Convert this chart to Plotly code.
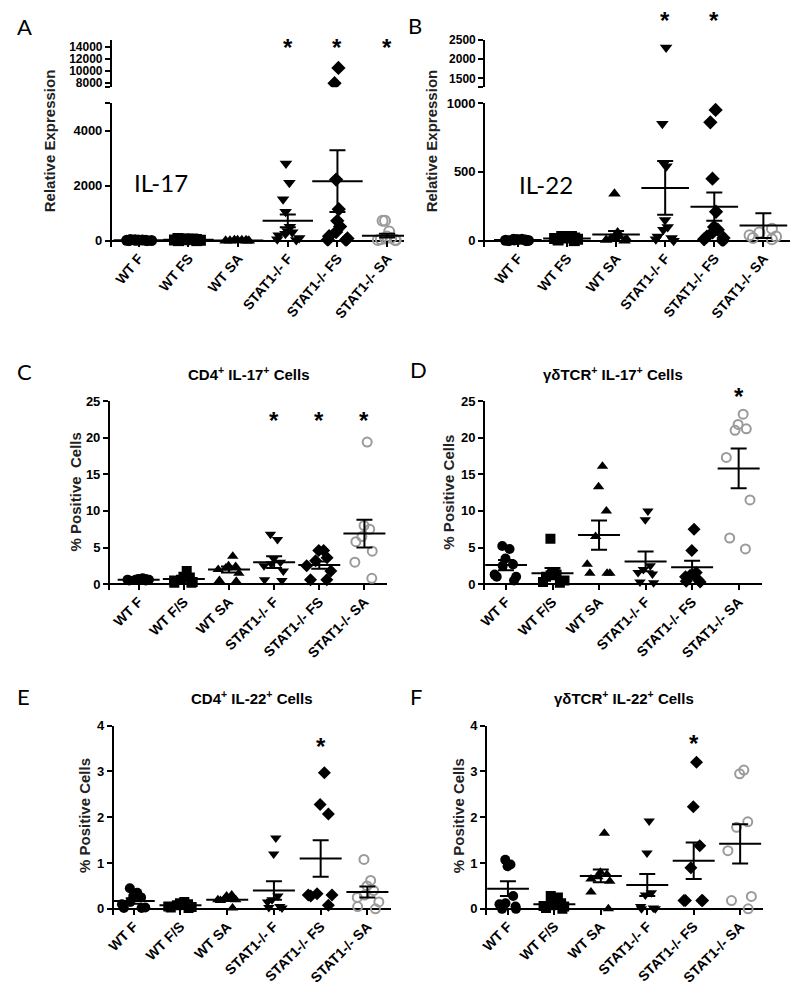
import plotly.graph_objects as go

W, H = 800, 996

# ---------------- data ----------------
cats_AB = ["WT F", "WT FS", "WT SA", "STAT1-/- F", "STAT1-/- FS", "STAT1-/- SA"]
cats_CF = ["WT F", "WT F/S", "WT SA", "STAT1-/- F", "STAT1-/- FS", "STAT1-/- SA"]

# A: IL-17 relative expression
il17_rel = [
    [0, 0, 5, 10, 10, 15, 20, 20, 30, 40],
    [0, 0, 10, 20, 30, 40, 50, 60, 60, 80],
    [0, 0, 0, 5, 5, 10, 10, 10, 0],
    [2800, 2100, 1500, 1050, 500, 350, 300, 250, 200, 100, 50, 20],
    [10500, 8000, 2220, 1140, 720, 510, 310, 160, 80, 30, 20],
    [720, 720, 330, 150, 100, 80, 50, 30, 20, 10],
]
il17_rel_mean = [12, 30, 5, 720, 2160, 180]
il17_rel_sem = [4, 8, 2, 230, 1120, 70]

# B: IL-22 relative expression
il22_rel = [
    [0, 0, 2, 3, 5, 5, 8, 10, 10],
    [0, 5, 10, 15, 20, 25, 30, 30, 20],
    [340, 60, 40, 30, 20, 15, 10, 5, 0],
    [2300, 850, 560, 540, 150, 100, 80, 30, 20, 10, 0],
    [950, 860, 450, 210, 100, 80, 60, 30, 20, 10, 0],
    [86, 60, 40, 30, 20, 10],
]
il22_rel_mean = [4, 15, 45, 383, 247, 110]
il22_rel_sem = [1, 3, 25, 195, 103, 90]

# C: CD4+ IL-17+ cells (%)
cd4_il17 = [
    [0.5, 0.6, 0.7, 0.5, 0.6, 0.8, 0.7, 0.6],
    [1.8, 1.0, 0.9, 0.6, 0.5, 0.3, 0.2, 0.2],
    [3.8, 2.5, 2.4, 2.2, 2.0, 1.5, 0.5, 0.4],
    [6.8, 6.1, 3.5, 3.0, 2.8, 2.5, 0.5, 0.6, 1.8],
    [4.6, 4.6, 3.6, 3.2, 2.5, 1.8, 0.6, 0.6],
    [19.4, 8.0, 7.5, 6.5, 5.8, 4.5, 3.0, 0.8],
]
cd4_il17_mean = [0.6, 0.7, 2.0, 3.0, 2.6, 6.9]
cd4_il17_sem = [0.05, 0.2, 0.4, 0.8, 0.5, 1.9]

# D: gdTCR+ IL-17+ cells (%)
gd_il17 = [
    [5.2, 4.8, 3.5, 2.7, 2.5, 1.0, 1.0, 0.5, 1.3],
    [6.2, 1.5, 1.4, 1.3, 1.2, 1.0, 0.5, 0.3, 0.2],
    [16.1, 13.3, 10.0, 6.5, 2.7, 1.5, 1.5, 1.5],
    [10.0, 8.8, 2.5, 2.0, 1.6, 1.4, 0.3, 0.2],
    [7.5, 4.6, 1.6, 1.2, 1.0, 0.6, 0.4, 0.3],
    [23.2, 21.8, 21.0, 21.2, 17.3, 11.5, 6.3, 4.8],
]
gd_il17_mean = [2.6, 1.5, 6.7, 3.1, 2.3, 15.8]
gd_il17_sem = [0.7, 0.7, 2.0, 1.35, 0.9, 2.7]

# E: CD4+ IL-22+ cells (%)
cd4_il22 = [
    [0.45, 0.35, 0.28, 0.25, 0.15, 0.1, 0.02, 0.02, 0.03],
    [0.15, 0.12, 0.1, 0.08, 0.05, 0.04, 0.03, 0.02],
    [0.3, 0.28, 0.25, 0.22, 0.2, 0.18, 0.2, 0.02],
    [1.55, 1.2, 0.28, 0.2, 0.15, 0.05, 0.03, 0.02],
    [2.97, 2.28, 2.07, 0.33, 0.3, 0.3, 0.28, 0.08],
    [1.08, 0.62, 0.5, 0.4, 0.3, 0.25, 0.15, 0.05, 0.0],
]
cd4_il22_mean = [0.17, 0.08, 0.2, 0.4, 1.1, 0.37]
cd4_il22_sem = [0.06, 0.02, 0.03, 0.2, 0.4, 0.12]

# F: gdTCR+ IL-22+ cells (%)
gd_il22 = [
    [1.07, 0.97, 0.93, 0.28, 0.12, 0.1, 0.05, 0.0, 0.0],
    [0.28, 0.25, 0.2, 0.12, 0.08, 0.06, 0.05, 0.02, 0.0],
    [1.65, 0.8, 0.75, 0.7, 0.65, 0.6, 0.37, 0.0],
    [1.92, 1.22, 0.35, 0.3, 0.05, 0.02, 0.0, 0.0],
    [3.2, 2.23, 1.38, 0.9, 0.18, 0.18, 0.18, 0.18],
    [3.03, 2.95, 1.9, 1.78, 1.27, 0.27, 0.18, 0.0],
]
gd_il22_mean = [0.44, 0.1, 0.72, 0.52, 1.05, 1.42]
gd_il22_sem = [0.16, 0.03, 0.14, 0.24, 0.4, 0.43]

# ---------------- styling ----------------
FONT = "Liberation Sans, Arial, sans-serif"
LETTER_FONT = "Lato, Liberation Sans, sans-serif"
GRAY = "#9a9a9a"
SYMBOLS = ["circle", "square", "triangle-up", "triangle-down", "diamond", "circle-open"]


def fx(px):
    return px / W


def fy(py):
    return 1 - py / H


fig = go.Figure()
layout = dict()
annotations = []


def add_points(vals_list, cats, xa, ya, msize):
    for i, vals in enumerate(vals_list):
        open_marker = SYMBOLS[i] == "circle-open"
        fig.add_trace(go.Box(
            x=[cats[i]] * len(vals), y=vals,
            boxpoints="all", jitter=1.0, pointpos=0,
            line=dict(width=0), fillcolor="rgba(0,0,0,0)",
            marker=dict(symbol=SYMBOLS[i], size=msize - (1 if open_marker else 0),
                        color=GRAY if open_marker else "black",
                        line=dict(width=2 if open_marker else 0,
                                  color=GRAY if open_marker else "black")),
            xaxis=xa, yaxis=ya, showlegend=False, hoverinfo="y",
        ))


def add_mean(means, sems, cats, xa, ya, lw):
    fig.add_trace(go.Scatter(
        x=cats, y=means, mode="markers",
        marker=dict(symbol="line-ew", size=lw, color="black",
                    line=dict(width=2, color="black")),
        error_y=dict(type="data", array=sems, visible=True,
                     thickness=2, width=8, color="black"),
        xaxis=xa, yaxis=ya, showlegend=False, hoverinfo="y",
    ))


def xaxis_dict(cats, xdom, xrange, anchor, visible=True, tsize=14, tangle=-45):
    d = dict(domain=[fx(xdom[0]), fx(xdom[1])], anchor=anchor,
             type="category", categoryorder="array", categoryarray=cats,
             range=list(xrange), showgrid=False, zeroline=False,
             showline=False, fixedrange=True)
    if visible:
        d.update(ticks="inside", ticklen=6, tickwidth=2, tickcolor="black",
                 tickangle=tangle,
                 tickfont=dict(family=FONT, size=tsize, color="black", weight="bold"))
    else:
        d.update(visible=False)
    return d


def yaxis_dict(ydom, yrange, anchor, tickvals, tsize=13, endticks=None):
    d = dict(domain=[fy(ydom[1]), fy(ydom[0])], anchor=anchor,
             range=list(yrange), showgrid=False,
             zeroline=True, zerolinecolor="black", zerolinewidth=2,
             showline=True, linecolor="black", linewidth=2,
             ticks="outside", ticklen=5, tickwidth=2, tickcolor="black",
             tickmode="array", tickvals=tickvals, ticktext=[str(v) for v in tickvals],
             tickfont=dict(family=FONT, size=tsize, color="black", weight="bold"),
             fixedrange=True)
    if endticks:
        # unlabelled ticks marking the ends of a broken axis segment
        d["minor"] = dict(tickmode="array", tickvals=endticks, ticks="outside",
                          ticklen=5, tickwidth=2, tickcolor="black", showgrid=False)
    return d


def text_at(text, px, py, size, family=FONT, weight="bold", color="black", angle=0):
    annotations.append(dict(text=text, x=fx(px), y=fy(py), xref="paper", yref="paper",
                            textangle=angle, showarrow=False,
                            xanchor="center", yanchor="middle",
                            font=dict(family=family, size=size, color=color, weight=weight)))


def ytitle(text, px, py, size=15):
    text_at(text, px, py, size, color="#222", angle=-90)


def letter(text, px, py):
    text_at(text, px, py, 22, family=LETTER_FONT, weight="normal")


def title(text, px, py):
    text_at(text, px, py, 15)


def stars(xref, cats, idxs, py):
    for i in idxs:
        annotations.append(dict(text="*", x=cats[i], y=fy(py), xref=xref, yref="paper",
                                showarrow=False, xanchor="center", yanchor="middle",
                                font=dict(family=FONT, size=24, color="black", weight="bold")))


# ---------- Panel A (broken axis) ----------
add_points(il17_rel, cats_AB, "x", "y", 11)
add_mean(il17_rel_mean, il17_rel_sem, cats_AB, "x", "y", 36)
add_points(il17_rel, cats_AB, "x2", "y2", 11)
layout["xaxis"] = xaxis_dict(cats_AB, (105, 400), (-0.54, 5.34), "y", tsize=14, tangle=-50)
layout["yaxis"] = yaxis_dict((97, 242), (-216, 5000), "x", [0, 2000, 4000], endticks=[5000])
layout["xaxis2"] = xaxis_dict(cats_AB, (105, 400), (-0.54, 5.34), "y2", visible=False)
layout["yaxis2"] = yaxis_dict((33, 81), (7350, 15135), "x2", [8000, 10000, 12000, 14000],
                              tsize=12, endticks=[7400])
layout["yaxis2"]["zeroline"] = False

# ---------- Panel B (broken axis) ----------
add_points(il22_rel, cats_AB, "x3", "y3", 11)
add_mean(il22_rel_mean, il22_rel_sem, cats_AB, "x3", "y3", 34)
add_points(il22_rel, cats_AB, "x4", "y4", 11)
layout["xaxis3"] = xaxis_dict(cats_AB, (482, 790), (-0.665, 5.544), "y3", tsize=14, tangle=-50)
layout["yaxis3"] = yaxis_dict((97, 242), (-43, 1000), "x3", [0, 500, 1000])
layout["xaxis4"] = xaxis_dict(cats_AB, (482, 790), (-0.665, 5.544), "y4", visible=False)
layout["yaxis4"] = yaxis_dict((33, 81), (1271, 2500), "x4", [1500, 2000, 2500],
                              tsize=12, endticks=[1280])
layout["yaxis4"]["zeroline"] = False

# ---------- Panel C ----------
add_points(cd4_il17, cats_CF, "x5", "y5", 10)
add_mean(cd4_il17_mean, cd4_il17_sem, cats_CF, "x5", "y5", 30)
layout["xaxis5"] = xaxis_dict(cats_CF, (103, 383), (-0.636, 5.504), "y5")
layout["yaxis5"] = yaxis_dict((398, 589), (-0.81, 25), "x5", [0, 5, 10, 15, 20, 25])

# ---------- Panel D ----------
add_points(gd_il17, cats_CF, "x6", "y6", 10)
add_mean(gd_il17_mean, gd_il17_sem, cats_CF, "x6", "y6", 30)
layout["xaxis6"] = xaxis_dict(cats_CF, (482, 762), (-0.447, 5.51), "y6")
layout["yaxis6"] = yaxis_dict((398, 589), (-0.81, 25), "x6", [0, 5, 10, 15, 20, 25])

# ---------- Panel E ----------
add_points(cd4_il22, cats_CF, "x7", "y7", 10)
add_mean(cd4_il22_mean, cd4_il22_sem, cats_CF, "x7", "y7", 30)
layout["xaxis7"] = xaxis_dict(cats_CF, (107, 387), (-0.424, 5.508), "y7")
layout["yaxis7"] = yaxis_dict((726, 917), (-0.13, 4), "x7", [0, 1, 2, 3, 4])

# ---------- Panel F ----------
add_points(gd_il22, cats_CF, "x8", "y8", 10)
add_mean(gd_il22_mean, gd_il22_sem, cats_CF, "x8", "y8", 30)
layout["xaxis8"] = xaxis_dict(cats_CF, (484, 763), (-0.447, 5.5), "y8")
layout["yaxis8"] = yaxis_dict((726, 917), (-0.13, 4), "x8", [0, 1, 2, 3, 4])

# ---------- annotations ----------
letter("A", 17, 20)
letter("B", 411, 19)
letter("C", 17, 368)
letter("D", 415, 366)
letter("E", 16, 696)
letter("F", 412, 696)

text_at("IL-17", 155, 177, 24, family=LETTER_FONT, weight="normal")
text_at("IL-22", 543, 179, 24, family=LETTER_FONT, weight="normal")

title("CD4<sup>+</sup> IL-17<sup>+</sup> Cells", 243, 370)
title("γδTCR<sup>+</sup> IL-17<sup>+</sup> Cells", 611, 370)
title("CD4<sup>+</sup> IL-22<sup>+</sup> Cells", 246, 697)
title("γδTCR<sup>+</sup> IL-22<sup>+</sup> Cells", 622, 697)

ytitle("Relative Expression", 42, 135)
ytitle("Relative Expression", 428, 135)
ytitle("% Positive  Cells", 68, 490)
ytitle("% Positive Cells", 445, 490)
ytitle("% Positive Cells", 78, 817)
ytitle("% Positive Cells", 455, 817)

stars("x", cats_AB, [3, 4, 5], 41)
stars("x3", cats_AB, [3, 4], 14)
stars("x5", cats_CF, [3, 4, 5], 418)
stars("x6", cats_CF, [5], 393)
stars("x7", cats_CF, [4], 747)
stars("x8", cats_CF, [4], 744)

fig.update_layout(
    width=W, height=H, margin=dict(l=0, r=0, t=0, b=0),
    paper_bgcolor="white", plot_bgcolor="white",
    boxgap=0.05, boxmode="overlay", showlegend=False,
    annotations=annotations, **layout,
)

fig.write_html("out.html", config={"displayModeBar": False},
               post_script="document.body.style.margin='0';document.body.style.overflow='hidden';")
